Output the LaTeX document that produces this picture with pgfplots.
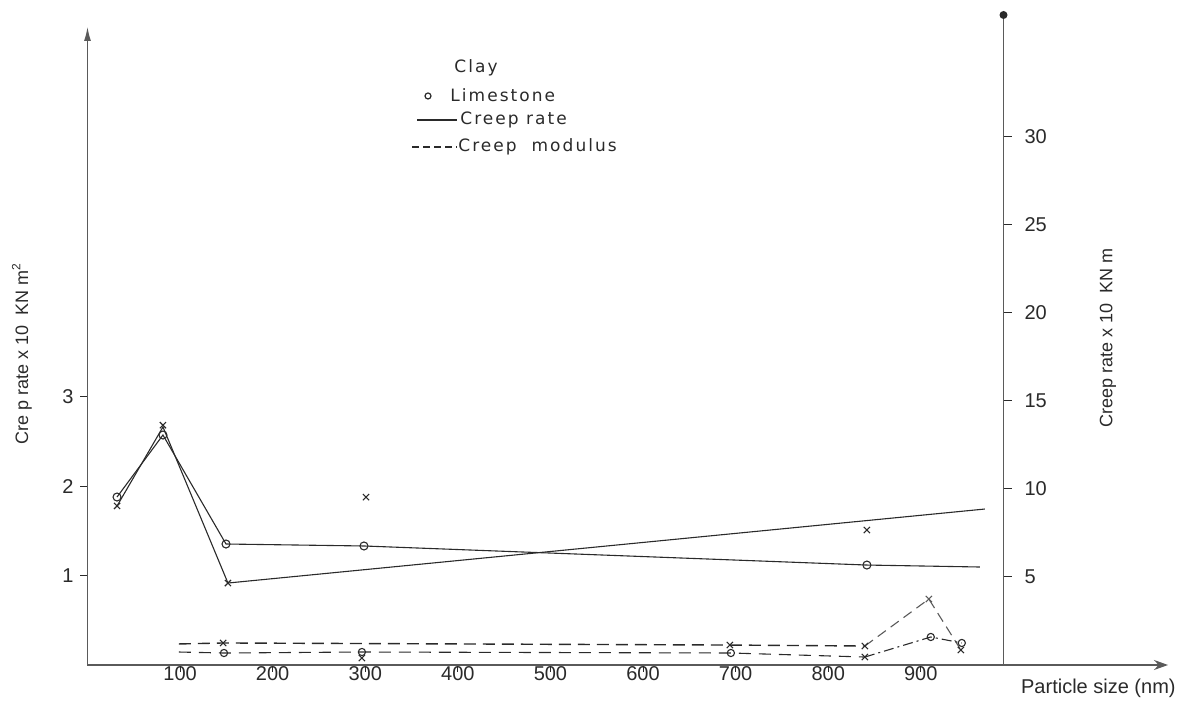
\documentclass[border=0pt]{standalone}
\usepackage{pgfplots}
\pgfplotsset{compat=1.18}
\usepackage{fontspec}
\setmainfont{Liberation Sans}
\newfontfamily\legendfont[LetterSpace=12]{DejaVu Sans}
\usetikzlibrary{arrows.meta}

\definecolor{ink}{HTML}{2A2A2A}
\definecolor{softink}{HTML}{5A5A5A}

\begin{document}
\begin{tikzpicture}[x=1pt,y=1pt]
\path[use as bounding box] (-43.75,-25) rectangle (544.75,332.5);

% ---- left scale: creep rate x 10 KN m^2, all series are drawn here ----
\begin{axis}[
  at={(0,0)}, anchor=south west, scale only axis,
  width=540.25pt, height=319pt,
  xmin=0, xmax=1167, ymin=0, ymax=7.13,
  axis x line=bottom, axis y line=left,
  axis line style={line width=0.6pt, softink},
  x axis line style={-{Stealth[length=7pt,width=5pt]}},
  y axis line style={-{Latex[length=7pt,width=3.5pt]}},
  xtick={100,200,...,900}, ytick={1,2,3},
  tick align=outside, major tick length=3.5pt,
  tick style={ink, line width=0.5pt},
  /pgf/number format/assume math mode=true,
  ticklabel style={font=\fontsize{10}{12}\selectfont, text=ink},
  xticklabel style={yshift=6.5pt},
  clip=false,
]
% Limestone, creep rate
\addplot[ink, line width=0.55pt] coordinates {
  (31.9,1.877) (81.5,2.57) (149.6,1.352) (298.6,1.33) (841.8,1.117) (963.8,1.095)};
\addplot[ink, only marks, mark=o, mark size=2pt, mark options={line width=0.55pt}] coordinates {
  (31.9,1.877) (81.5,2.57) (149.6,1.352) (298.6,1.33) (841.8,1.117)};
% Clay, creep rate
\addplot[ink, line width=0.55pt] coordinates {
  (31.9,1.777) (81.5,2.66) (151.7,0.916) (969.2,1.743)};
\addplot[ink, only marks, mark=x, mark size=2.2pt, mark options={line width=0.55pt}] coordinates {
  (31.9,1.777) (81.5,2.68) (151.7,0.916) (300.8,1.877) (841.8,1.508)};
% Clay, creep modulus
\addplot[ink, line width=0.7pt, dash pattern=on 6pt off 3.5pt] coordinates {
  (98.8,0.235) (146.5,0.246) (693.8,0.223) (839.6,0.212)};
\addplot[softink, line width=0.55pt, dash pattern=on 5pt off 3pt] coordinates {
  (839.6,0.212) (908.7,0.737) (943.3,0.168)};
\addplot[ink, only marks, mark=x, mark size=2.2pt, mark options={line width=0.55pt}] coordinates {
  (146.5,0.246) (693.8,0.223) (839.6,0.212) (943.3,0.168) (296.4,0.078) (839.6,0.089)};
\addplot[softink, only marks, mark=x, mark size=2.2pt, mark options={line width=0.5pt}] coordinates {
  (908.7,0.737)};
% Limestone, creep modulus
\addplot[ink, line width=0.55pt, dash pattern=on 6pt off 4pt] coordinates {
  (98.8,0.145) (147.4,0.134) (296.4,0.145) (694.9,0.134) (839.6,0.089)};
\addplot[ink, line width=0.55pt, dash pattern=on 5pt off 2pt on 1pt off 2pt] coordinates {
  (839.6,0.089) (910.8,0.313) (944.3,0.246)};
\addplot[ink, only marks, mark=o, mark size=1.8pt, mark options={line width=0.55pt}] coordinates {
  (147.4,0.134) (296.4,0.145) (694.9,0.134) (910.8,0.313) (944.3,0.246)};
\end{axis}

% ---- right scale: creep rate x 10 KN m ----
\begin{axis}[
  at={(0,0)}, anchor=south west, scale only axis,
  width=458pt, height=325pt,
  xmin=0, xmax=989, ymin=0, ymax=36.93,
  axis x line=none, axis y line=right,
  axis line style={line width=0.6pt, softink, -},
  ytick={5,10,...,30},
  tick align=outside, major tick length=4pt,
  tick style={ink, line width=0.5pt},
  /pgf/number format/assume math mode=true,
  ticklabel style={font=\fontsize{10}{12}\selectfont, text=ink},
  yticklabel style={xshift=3pt},
  clip=false,
]
\fill[ink] (rel axis cs:1,1) circle (2pt);
\end{axis}

% axis titles
\node[rotate=90, font=\fontsize{9}{11}\selectfont, text=ink] at (-32.75,155.5)
  {Cre p rate x 10 \ KN m\textsuperscript{2}};
\node[rotate=90, font=\fontsize{9}{11}\selectfont, text=ink] at (510.25,163.5)
  {Creep rate x 10 \ KN m};
\node[anchor=east, inner sep=0pt, font=\fontsize{10}{12}\selectfont, text=ink] at (544.25,-11.5)
  {Particle size (nm)};

% key
\begin{scope}[font=\legendfont\fontsize{8.5}{10}\selectfont, text=ink]
\node at (194.25,298.5) {Clay};
\draw[ink, line width=0.6pt] (170.25,284.5) circle (1.5pt);
\node[anchor=west, inner sep=0pt] at (181.25,285) {Limestone};
\draw[ink, line width=0.6pt] (164.75,272.5) -- (184.75,272.5);
\node[anchor=west, inner sep=0pt] at (186.25,272.5) {Creep rate};
\draw[ink, line width=0.6pt, dash pattern=on 3.5pt off 2pt] (162.25,259) -- (184.75,259);
\node[anchor=west, inner sep=0pt] at (185.25,259) {Creep\ \ modulus};
\end{scope}
\end{tikzpicture}
\end{document}
